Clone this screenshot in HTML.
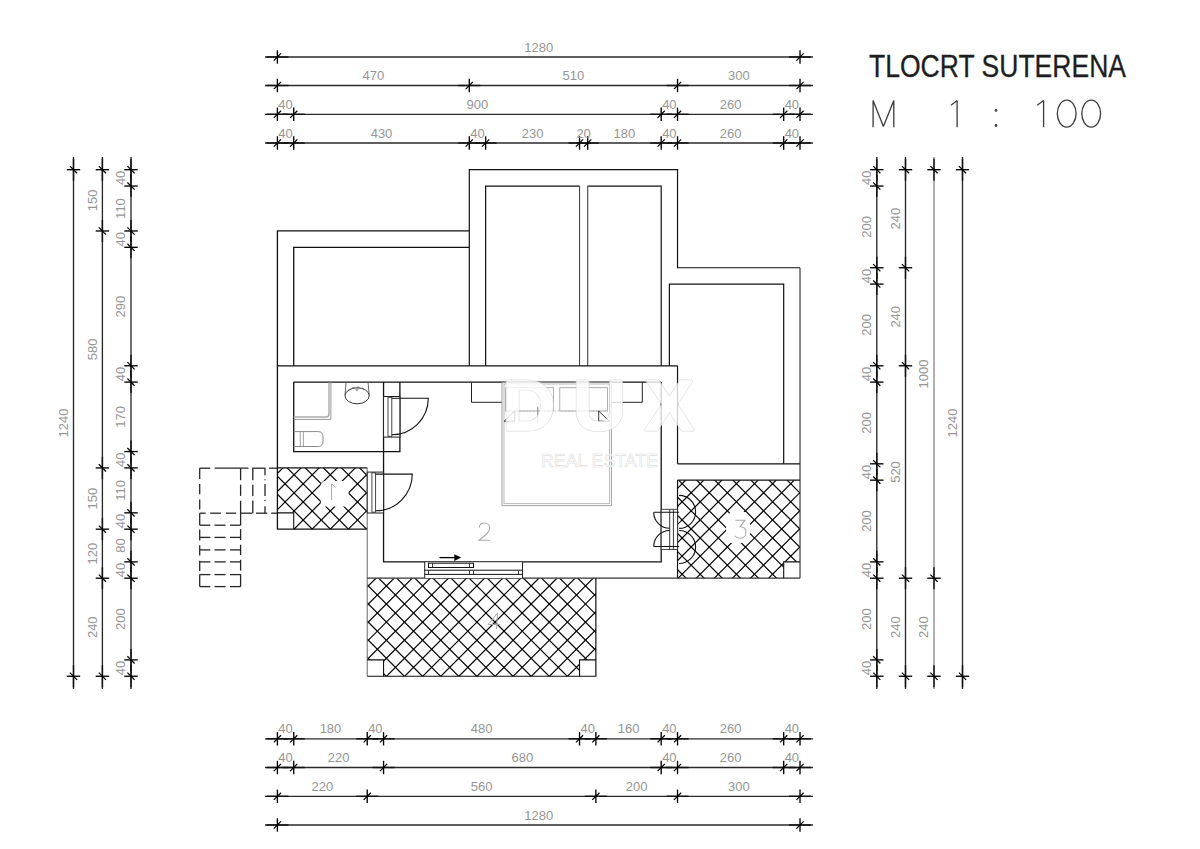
<!DOCTYPE html>
<html><head><meta charset="utf-8"><title>Tlocrt suterena</title>
<style>
html,body{margin:0;padding:0;background:#fff;}
body{width:1200px;height:849px;overflow:hidden;}
svg{display:block;}
.d{font-family:"Liberation Sans",sans-serif;font-size:13px;fill:#959595;}
</style></head><body>
<svg width="1200" height="849" viewBox="0 0 1200 849">
<defs>
<clipPath id="c1"><polygon points="277.4,467.9 367.23,467.9 367.23,529.18 293.73,529.18 293.73,512.84 277.4,512.84"/></clipPath>
<clipPath id="c4"><polygon points="367.23,578.2 595.87,578.2 595.87,659.9 579.54,659.9 579.54,676.24 383.56,676.24 383.56,659.9 367.23,659.9"/></clipPath>
<clipPath id="c3"><polygon points="677.53,480.16 800.02,480.16 800.02,561.86 783.69,561.86 783.69,578.2 677.53,578.2"/></clipPath>
</defs>
<rect width="1200" height="849" fill="#fff"/>
<line x1="265" y1="57" x2="813" y2="57" stroke="#2a2a2a" stroke-width="1.35"/>
<line x1="266.4" y1="57" x2="288.4" y2="57" stroke="#111" stroke-width="1.45"/>
<line x1="277.4" y1="50.3" x2="277.4" y2="63.7" stroke="#000" stroke-width="1.35"/>
<line x1="273.8" y1="60.6" x2="281" y2="53.4" stroke="#000" stroke-width="1.25"/>
<line x1="789.02" y1="57" x2="811.02" y2="57" stroke="#111" stroke-width="1.45"/>
<line x1="800.02" y1="50.3" x2="800.02" y2="63.7" stroke="#000" stroke-width="1.35"/>
<line x1="796.42" y1="60.6" x2="803.62" y2="53.4" stroke="#000" stroke-width="1.25"/>
<text x="538.71" y="51.5" class="d" text-anchor="middle">1280</text>
<line x1="265" y1="85.5" x2="813" y2="85.5" stroke="#2a2a2a" stroke-width="1.35"/>
<line x1="266.4" y1="85.5" x2="288.4" y2="85.5" stroke="#111" stroke-width="1.45"/>
<line x1="277.4" y1="78.8" x2="277.4" y2="92.2" stroke="#000" stroke-width="1.35"/>
<line x1="273.8" y1="89.1" x2="281" y2="81.9" stroke="#000" stroke-width="1.25"/>
<line x1="458.3" y1="85.5" x2="480.3" y2="85.5" stroke="#111" stroke-width="1.45"/>
<line x1="469.3" y1="78.8" x2="469.3" y2="92.2" stroke="#000" stroke-width="1.35"/>
<line x1="465.7" y1="89.1" x2="472.9" y2="81.9" stroke="#000" stroke-width="1.25"/>
<line x1="666.53" y1="85.5" x2="688.53" y2="85.5" stroke="#111" stroke-width="1.45"/>
<line x1="677.53" y1="78.8" x2="677.53" y2="92.2" stroke="#000" stroke-width="1.35"/>
<line x1="673.93" y1="89.1" x2="681.13" y2="81.9" stroke="#000" stroke-width="1.25"/>
<line x1="789.02" y1="85.5" x2="811.02" y2="85.5" stroke="#111" stroke-width="1.45"/>
<line x1="800.02" y1="78.8" x2="800.02" y2="92.2" stroke="#000" stroke-width="1.35"/>
<line x1="796.42" y1="89.1" x2="803.62" y2="81.9" stroke="#000" stroke-width="1.25"/>
<text x="373.35" y="80" class="d" text-anchor="middle">470</text>
<text x="573.42" y="80" class="d" text-anchor="middle">510</text>
<text x="738.78" y="80" class="d" text-anchor="middle">300</text>
<line x1="265" y1="114.3" x2="813" y2="114.3" stroke="#2a2a2a" stroke-width="1.35"/>
<line x1="266.4" y1="114.3" x2="288.4" y2="114.3" stroke="#111" stroke-width="1.45"/>
<line x1="277.4" y1="107.6" x2="277.4" y2="121" stroke="#000" stroke-width="1.35"/>
<line x1="273.8" y1="117.9" x2="281" y2="110.7" stroke="#000" stroke-width="1.25"/>
<line x1="282.73" y1="114.3" x2="304.73" y2="114.3" stroke="#111" stroke-width="1.45"/>
<line x1="293.73" y1="107.6" x2="293.73" y2="121" stroke="#000" stroke-width="1.35"/>
<line x1="290.13" y1="117.9" x2="297.33" y2="110.7" stroke="#000" stroke-width="1.25"/>
<line x1="650.2" y1="114.3" x2="672.2" y2="114.3" stroke="#111" stroke-width="1.45"/>
<line x1="661.2" y1="107.6" x2="661.2" y2="121" stroke="#000" stroke-width="1.35"/>
<line x1="657.6" y1="117.9" x2="664.8" y2="110.7" stroke="#000" stroke-width="1.25"/>
<line x1="666.53" y1="114.3" x2="688.53" y2="114.3" stroke="#111" stroke-width="1.45"/>
<line x1="677.53" y1="107.6" x2="677.53" y2="121" stroke="#000" stroke-width="1.35"/>
<line x1="673.93" y1="117.9" x2="681.13" y2="110.7" stroke="#000" stroke-width="1.25"/>
<line x1="772.69" y1="114.3" x2="794.69" y2="114.3" stroke="#111" stroke-width="1.45"/>
<line x1="783.69" y1="107.6" x2="783.69" y2="121" stroke="#000" stroke-width="1.35"/>
<line x1="780.09" y1="117.9" x2="787.29" y2="110.7" stroke="#000" stroke-width="1.25"/>
<line x1="789.02" y1="114.3" x2="811.02" y2="114.3" stroke="#111" stroke-width="1.45"/>
<line x1="800.02" y1="107.6" x2="800.02" y2="121" stroke="#000" stroke-width="1.35"/>
<line x1="796.42" y1="117.9" x2="803.62" y2="110.7" stroke="#000" stroke-width="1.25"/>
<text x="285.57" y="108.8" class="d" text-anchor="middle">40</text>
<text x="477.47" y="108.8" class="d" text-anchor="middle">900</text>
<text x="669.37" y="108.8" class="d" text-anchor="middle">40</text>
<text x="730.61" y="108.8" class="d" text-anchor="middle">260</text>
<text x="791.86" y="108.8" class="d" text-anchor="middle">40</text>
<line x1="265" y1="143" x2="813" y2="143" stroke="#2a2a2a" stroke-width="1.35"/>
<line x1="266.4" y1="143" x2="288.4" y2="143" stroke="#111" stroke-width="1.45"/>
<line x1="277.4" y1="136.3" x2="277.4" y2="149.7" stroke="#000" stroke-width="1.35"/>
<line x1="273.8" y1="146.6" x2="281" y2="139.4" stroke="#000" stroke-width="1.25"/>
<line x1="282.73" y1="143" x2="304.73" y2="143" stroke="#111" stroke-width="1.45"/>
<line x1="293.73" y1="136.3" x2="293.73" y2="149.7" stroke="#000" stroke-width="1.35"/>
<line x1="290.13" y1="146.6" x2="297.33" y2="139.4" stroke="#000" stroke-width="1.25"/>
<line x1="458.3" y1="143" x2="480.3" y2="143" stroke="#111" stroke-width="1.45"/>
<line x1="469.3" y1="136.3" x2="469.3" y2="149.7" stroke="#000" stroke-width="1.35"/>
<line x1="465.7" y1="146.6" x2="472.9" y2="139.4" stroke="#000" stroke-width="1.25"/>
<line x1="474.63" y1="143" x2="496.63" y2="143" stroke="#111" stroke-width="1.45"/>
<line x1="485.63" y1="136.3" x2="485.63" y2="149.7" stroke="#000" stroke-width="1.35"/>
<line x1="482.03" y1="146.6" x2="489.23" y2="139.4" stroke="#000" stroke-width="1.25"/>
<line x1="568.54" y1="143" x2="590.54" y2="143" stroke="#111" stroke-width="1.45"/>
<line x1="579.54" y1="136.3" x2="579.54" y2="149.7" stroke="#000" stroke-width="1.35"/>
<line x1="575.94" y1="146.6" x2="583.14" y2="139.4" stroke="#000" stroke-width="1.25"/>
<line x1="576.71" y1="143" x2="598.71" y2="143" stroke="#111" stroke-width="1.45"/>
<line x1="587.71" y1="136.3" x2="587.71" y2="149.7" stroke="#000" stroke-width="1.35"/>
<line x1="584.11" y1="146.6" x2="591.31" y2="139.4" stroke="#000" stroke-width="1.25"/>
<line x1="650.2" y1="143" x2="672.2" y2="143" stroke="#111" stroke-width="1.45"/>
<line x1="661.2" y1="136.3" x2="661.2" y2="149.7" stroke="#000" stroke-width="1.35"/>
<line x1="657.6" y1="146.6" x2="664.8" y2="139.4" stroke="#000" stroke-width="1.25"/>
<line x1="666.53" y1="143" x2="688.53" y2="143" stroke="#111" stroke-width="1.45"/>
<line x1="677.53" y1="136.3" x2="677.53" y2="149.7" stroke="#000" stroke-width="1.35"/>
<line x1="673.93" y1="146.6" x2="681.13" y2="139.4" stroke="#000" stroke-width="1.25"/>
<line x1="772.69" y1="143" x2="794.69" y2="143" stroke="#111" stroke-width="1.45"/>
<line x1="783.69" y1="136.3" x2="783.69" y2="149.7" stroke="#000" stroke-width="1.35"/>
<line x1="780.09" y1="146.6" x2="787.29" y2="139.4" stroke="#000" stroke-width="1.25"/>
<line x1="789.02" y1="143" x2="811.02" y2="143" stroke="#111" stroke-width="1.45"/>
<line x1="800.02" y1="136.3" x2="800.02" y2="149.7" stroke="#000" stroke-width="1.35"/>
<line x1="796.42" y1="146.6" x2="803.62" y2="139.4" stroke="#000" stroke-width="1.25"/>
<text x="285.57" y="137.5" class="d" text-anchor="middle">40</text>
<text x="381.52" y="137.5" class="d" text-anchor="middle">430</text>
<text x="477.47" y="137.5" class="d" text-anchor="middle">40</text>
<text x="532.59" y="137.5" class="d" text-anchor="middle">230</text>
<text x="583.62" y="137.5" class="d" text-anchor="middle">20</text>
<text x="624.45" y="137.5" class="d" text-anchor="middle">180</text>
<text x="669.37" y="137.5" class="d" text-anchor="middle">40</text>
<text x="730.61" y="137.5" class="d" text-anchor="middle">260</text>
<text x="791.86" y="137.5" class="d" text-anchor="middle">40</text>
<line x1="265" y1="738.8" x2="813" y2="738.8" stroke="#2a2a2a" stroke-width="1.35"/>
<line x1="266.4" y1="738.8" x2="288.4" y2="738.8" stroke="#111" stroke-width="1.45"/>
<line x1="277.4" y1="732.1" x2="277.4" y2="745.5" stroke="#000" stroke-width="1.35"/>
<line x1="273.8" y1="742.4" x2="281" y2="735.2" stroke="#000" stroke-width="1.25"/>
<line x1="282.73" y1="738.8" x2="304.73" y2="738.8" stroke="#111" stroke-width="1.45"/>
<line x1="293.73" y1="732.1" x2="293.73" y2="745.5" stroke="#000" stroke-width="1.35"/>
<line x1="290.13" y1="742.4" x2="297.33" y2="735.2" stroke="#000" stroke-width="1.25"/>
<line x1="356.23" y1="738.8" x2="378.23" y2="738.8" stroke="#111" stroke-width="1.45"/>
<line x1="367.23" y1="732.1" x2="367.23" y2="745.5" stroke="#000" stroke-width="1.35"/>
<line x1="363.63" y1="742.4" x2="370.83" y2="735.2" stroke="#000" stroke-width="1.25"/>
<line x1="372.56" y1="738.8" x2="394.56" y2="738.8" stroke="#111" stroke-width="1.45"/>
<line x1="383.56" y1="732.1" x2="383.56" y2="745.5" stroke="#000" stroke-width="1.35"/>
<line x1="379.96" y1="742.4" x2="387.16" y2="735.2" stroke="#000" stroke-width="1.25"/>
<line x1="568.54" y1="738.8" x2="590.54" y2="738.8" stroke="#111" stroke-width="1.45"/>
<line x1="579.54" y1="732.1" x2="579.54" y2="745.5" stroke="#000" stroke-width="1.35"/>
<line x1="575.94" y1="742.4" x2="583.14" y2="735.2" stroke="#000" stroke-width="1.25"/>
<line x1="584.87" y1="738.8" x2="606.87" y2="738.8" stroke="#111" stroke-width="1.45"/>
<line x1="595.87" y1="732.1" x2="595.87" y2="745.5" stroke="#000" stroke-width="1.35"/>
<line x1="592.27" y1="742.4" x2="599.47" y2="735.2" stroke="#000" stroke-width="1.25"/>
<line x1="650.2" y1="738.8" x2="672.2" y2="738.8" stroke="#111" stroke-width="1.45"/>
<line x1="661.2" y1="732.1" x2="661.2" y2="745.5" stroke="#000" stroke-width="1.35"/>
<line x1="657.6" y1="742.4" x2="664.8" y2="735.2" stroke="#000" stroke-width="1.25"/>
<line x1="666.53" y1="738.8" x2="688.53" y2="738.8" stroke="#111" stroke-width="1.45"/>
<line x1="677.53" y1="732.1" x2="677.53" y2="745.5" stroke="#000" stroke-width="1.35"/>
<line x1="673.93" y1="742.4" x2="681.13" y2="735.2" stroke="#000" stroke-width="1.25"/>
<line x1="772.69" y1="738.8" x2="794.69" y2="738.8" stroke="#111" stroke-width="1.45"/>
<line x1="783.69" y1="732.1" x2="783.69" y2="745.5" stroke="#000" stroke-width="1.35"/>
<line x1="780.09" y1="742.4" x2="787.29" y2="735.2" stroke="#000" stroke-width="1.25"/>
<line x1="789.02" y1="738.8" x2="811.02" y2="738.8" stroke="#111" stroke-width="1.45"/>
<line x1="800.02" y1="732.1" x2="800.02" y2="745.5" stroke="#000" stroke-width="1.35"/>
<line x1="796.42" y1="742.4" x2="803.62" y2="735.2" stroke="#000" stroke-width="1.25"/>
<text x="285.57" y="733.3" class="d" text-anchor="middle">40</text>
<text x="330.48" y="733.3" class="d" text-anchor="middle">180</text>
<text x="375.39" y="733.3" class="d" text-anchor="middle">40</text>
<text x="481.55" y="733.3" class="d" text-anchor="middle">480</text>
<text x="587.71" y="733.3" class="d" text-anchor="middle">40</text>
<text x="628.54" y="733.3" class="d" text-anchor="middle">160</text>
<text x="669.37" y="733.3" class="d" text-anchor="middle">40</text>
<text x="730.61" y="733.3" class="d" text-anchor="middle">260</text>
<text x="791.86" y="733.3" class="d" text-anchor="middle">40</text>
<line x1="265" y1="767.5" x2="813" y2="767.5" stroke="#2a2a2a" stroke-width="1.35"/>
<line x1="266.4" y1="767.5" x2="288.4" y2="767.5" stroke="#111" stroke-width="1.45"/>
<line x1="277.4" y1="760.8" x2="277.4" y2="774.2" stroke="#000" stroke-width="1.35"/>
<line x1="273.8" y1="771.1" x2="281" y2="763.9" stroke="#000" stroke-width="1.25"/>
<line x1="282.73" y1="767.5" x2="304.73" y2="767.5" stroke="#111" stroke-width="1.45"/>
<line x1="293.73" y1="760.8" x2="293.73" y2="774.2" stroke="#000" stroke-width="1.35"/>
<line x1="290.13" y1="771.1" x2="297.33" y2="763.9" stroke="#000" stroke-width="1.25"/>
<line x1="372.56" y1="767.5" x2="394.56" y2="767.5" stroke="#111" stroke-width="1.45"/>
<line x1="383.56" y1="760.8" x2="383.56" y2="774.2" stroke="#000" stroke-width="1.35"/>
<line x1="379.96" y1="771.1" x2="387.16" y2="763.9" stroke="#000" stroke-width="1.25"/>
<line x1="650.2" y1="767.5" x2="672.2" y2="767.5" stroke="#111" stroke-width="1.45"/>
<line x1="661.2" y1="760.8" x2="661.2" y2="774.2" stroke="#000" stroke-width="1.35"/>
<line x1="657.6" y1="771.1" x2="664.8" y2="763.9" stroke="#000" stroke-width="1.25"/>
<line x1="666.53" y1="767.5" x2="688.53" y2="767.5" stroke="#111" stroke-width="1.45"/>
<line x1="677.53" y1="760.8" x2="677.53" y2="774.2" stroke="#000" stroke-width="1.35"/>
<line x1="673.93" y1="771.1" x2="681.13" y2="763.9" stroke="#000" stroke-width="1.25"/>
<line x1="772.69" y1="767.5" x2="794.69" y2="767.5" stroke="#111" stroke-width="1.45"/>
<line x1="783.69" y1="760.8" x2="783.69" y2="774.2" stroke="#000" stroke-width="1.35"/>
<line x1="780.09" y1="771.1" x2="787.29" y2="763.9" stroke="#000" stroke-width="1.25"/>
<line x1="789.02" y1="767.5" x2="811.02" y2="767.5" stroke="#111" stroke-width="1.45"/>
<line x1="800.02" y1="760.8" x2="800.02" y2="774.2" stroke="#000" stroke-width="1.35"/>
<line x1="796.42" y1="771.1" x2="803.62" y2="763.9" stroke="#000" stroke-width="1.25"/>
<text x="285.57" y="762" class="d" text-anchor="middle">40</text>
<text x="338.64" y="762" class="d" text-anchor="middle">220</text>
<text x="522.38" y="762" class="d" text-anchor="middle">680</text>
<text x="669.37" y="762" class="d" text-anchor="middle">40</text>
<text x="730.61" y="762" class="d" text-anchor="middle">260</text>
<text x="791.86" y="762" class="d" text-anchor="middle">40</text>
<line x1="265" y1="796.3" x2="813" y2="796.3" stroke="#2a2a2a" stroke-width="1.35"/>
<line x1="266.4" y1="796.3" x2="288.4" y2="796.3" stroke="#111" stroke-width="1.45"/>
<line x1="277.4" y1="789.6" x2="277.4" y2="803" stroke="#000" stroke-width="1.35"/>
<line x1="273.8" y1="799.9" x2="281" y2="792.7" stroke="#000" stroke-width="1.25"/>
<line x1="356.23" y1="796.3" x2="378.23" y2="796.3" stroke="#111" stroke-width="1.45"/>
<line x1="367.23" y1="789.6" x2="367.23" y2="803" stroke="#000" stroke-width="1.35"/>
<line x1="363.63" y1="799.9" x2="370.83" y2="792.7" stroke="#000" stroke-width="1.25"/>
<line x1="584.87" y1="796.3" x2="606.87" y2="796.3" stroke="#111" stroke-width="1.45"/>
<line x1="595.87" y1="789.6" x2="595.87" y2="803" stroke="#000" stroke-width="1.35"/>
<line x1="592.27" y1="799.9" x2="599.47" y2="792.7" stroke="#000" stroke-width="1.25"/>
<line x1="666.53" y1="796.3" x2="688.53" y2="796.3" stroke="#111" stroke-width="1.45"/>
<line x1="677.53" y1="789.6" x2="677.53" y2="803" stroke="#000" stroke-width="1.35"/>
<line x1="673.93" y1="799.9" x2="681.13" y2="792.7" stroke="#000" stroke-width="1.25"/>
<line x1="789.02" y1="796.3" x2="811.02" y2="796.3" stroke="#111" stroke-width="1.45"/>
<line x1="800.02" y1="789.6" x2="800.02" y2="803" stroke="#000" stroke-width="1.35"/>
<line x1="796.42" y1="799.9" x2="803.62" y2="792.7" stroke="#000" stroke-width="1.25"/>
<text x="322.31" y="790.8" class="d" text-anchor="middle">220</text>
<text x="481.55" y="790.8" class="d" text-anchor="middle">560</text>
<text x="636.7" y="790.8" class="d" text-anchor="middle">200</text>
<text x="738.78" y="790.8" class="d" text-anchor="middle">300</text>
<line x1="265" y1="825" x2="813" y2="825" stroke="#2a2a2a" stroke-width="1.35"/>
<line x1="266.4" y1="825" x2="288.4" y2="825" stroke="#111" stroke-width="1.45"/>
<line x1="277.4" y1="818.3" x2="277.4" y2="831.7" stroke="#000" stroke-width="1.35"/>
<line x1="273.8" y1="828.6" x2="281" y2="821.4" stroke="#000" stroke-width="1.25"/>
<line x1="789.02" y1="825" x2="811.02" y2="825" stroke="#111" stroke-width="1.45"/>
<line x1="800.02" y1="818.3" x2="800.02" y2="831.7" stroke="#000" stroke-width="1.35"/>
<line x1="796.42" y1="828.6" x2="803.62" y2="821.4" stroke="#000" stroke-width="1.25"/>
<text x="538.71" y="819.5" class="d" text-anchor="middle">1280</text>
<line x1="73.5" y1="157" x2="73.5" y2="689" stroke="#2a2a2a" stroke-width="1.35"/>
<line x1="73.5" y1="158.7" x2="73.5" y2="180.7" stroke="#111" stroke-width="1.45"/>
<line x1="66.8" y1="169.7" x2="80.2" y2="169.7" stroke="#000" stroke-width="1.35"/>
<line x1="69.9" y1="166.1" x2="77.1" y2="173.3" stroke="#000" stroke-width="1.25"/>
<line x1="73.5" y1="665.24" x2="73.5" y2="687.24" stroke="#111" stroke-width="1.45"/>
<line x1="66.8" y1="676.24" x2="80.2" y2="676.24" stroke="#000" stroke-width="1.35"/>
<line x1="69.9" y1="672.64" x2="77.1" y2="679.84" stroke="#000" stroke-width="1.25"/>
<text x="67.7" y="422.97" class="d" text-anchor="middle" transform="rotate(-90 67.7 422.97)">1240</text>
<line x1="102.4" y1="157" x2="102.4" y2="689" stroke="#2a2a2a" stroke-width="1.35"/>
<line x1="102.4" y1="158.7" x2="102.4" y2="180.7" stroke="#111" stroke-width="1.45"/>
<line x1="95.7" y1="169.7" x2="109.1" y2="169.7" stroke="#000" stroke-width="1.35"/>
<line x1="98.8" y1="166.1" x2="106" y2="173.3" stroke="#000" stroke-width="1.25"/>
<line x1="102.4" y1="219.97" x2="102.4" y2="241.97" stroke="#111" stroke-width="1.45"/>
<line x1="95.7" y1="230.97" x2="109.1" y2="230.97" stroke="#000" stroke-width="1.35"/>
<line x1="98.8" y1="227.38" x2="106" y2="234.57" stroke="#000" stroke-width="1.25"/>
<line x1="102.4" y1="456.9" x2="102.4" y2="478.9" stroke="#111" stroke-width="1.45"/>
<line x1="95.7" y1="467.9" x2="109.1" y2="467.9" stroke="#000" stroke-width="1.35"/>
<line x1="98.8" y1="464.3" x2="106" y2="471.5" stroke="#000" stroke-width="1.25"/>
<line x1="102.4" y1="518.18" x2="102.4" y2="540.18" stroke="#111" stroke-width="1.45"/>
<line x1="95.7" y1="529.18" x2="109.1" y2="529.18" stroke="#000" stroke-width="1.35"/>
<line x1="98.8" y1="525.58" x2="106" y2="532.78" stroke="#000" stroke-width="1.25"/>
<line x1="102.4" y1="567.2" x2="102.4" y2="589.2" stroke="#111" stroke-width="1.45"/>
<line x1="95.7" y1="578.2" x2="109.1" y2="578.2" stroke="#000" stroke-width="1.35"/>
<line x1="98.8" y1="574.6" x2="106" y2="581.8" stroke="#000" stroke-width="1.25"/>
<line x1="102.4" y1="665.24" x2="102.4" y2="687.24" stroke="#111" stroke-width="1.45"/>
<line x1="95.7" y1="676.24" x2="109.1" y2="676.24" stroke="#000" stroke-width="1.35"/>
<line x1="98.8" y1="672.64" x2="106" y2="679.84" stroke="#000" stroke-width="1.25"/>
<text x="96.6" y="200.34" class="d" text-anchor="middle" transform="rotate(-90 96.6 200.34)">150</text>
<text x="96.6" y="349.44" class="d" text-anchor="middle" transform="rotate(-90 96.6 349.44)">580</text>
<text x="96.6" y="498.54" class="d" text-anchor="middle" transform="rotate(-90 96.6 498.54)">150</text>
<text x="96.6" y="553.69" class="d" text-anchor="middle" transform="rotate(-90 96.6 553.69)">120</text>
<text x="96.6" y="627.22" class="d" text-anchor="middle" transform="rotate(-90 96.6 627.22)">240</text>
<line x1="131" y1="157" x2="131" y2="689" stroke="#2a2a2a" stroke-width="1.35"/>
<line x1="131" y1="158.7" x2="131" y2="180.7" stroke="#111" stroke-width="1.45"/>
<line x1="124.3" y1="169.7" x2="137.7" y2="169.7" stroke="#000" stroke-width="1.35"/>
<line x1="127.4" y1="166.1" x2="134.6" y2="173.3" stroke="#000" stroke-width="1.25"/>
<line x1="131" y1="175.04" x2="131" y2="197.04" stroke="#111" stroke-width="1.45"/>
<line x1="124.3" y1="186.04" x2="137.7" y2="186.04" stroke="#000" stroke-width="1.35"/>
<line x1="127.4" y1="182.44" x2="134.6" y2="189.64" stroke="#000" stroke-width="1.25"/>
<line x1="131" y1="219.97" x2="131" y2="241.97" stroke="#111" stroke-width="1.45"/>
<line x1="124.3" y1="230.97" x2="137.7" y2="230.97" stroke="#000" stroke-width="1.35"/>
<line x1="127.4" y1="227.38" x2="134.6" y2="234.57" stroke="#000" stroke-width="1.25"/>
<line x1="131" y1="236.31" x2="131" y2="258.31" stroke="#111" stroke-width="1.45"/>
<line x1="124.3" y1="247.31" x2="137.7" y2="247.31" stroke="#000" stroke-width="1.35"/>
<line x1="127.4" y1="243.72" x2="134.6" y2="250.91" stroke="#000" stroke-width="1.25"/>
<line x1="131" y1="354.78" x2="131" y2="376.78" stroke="#111" stroke-width="1.45"/>
<line x1="124.3" y1="365.78" x2="137.7" y2="365.78" stroke="#000" stroke-width="1.35"/>
<line x1="127.4" y1="362.18" x2="134.6" y2="369.38" stroke="#000" stroke-width="1.25"/>
<line x1="131" y1="371.12" x2="131" y2="393.12" stroke="#111" stroke-width="1.45"/>
<line x1="124.3" y1="382.12" x2="137.7" y2="382.12" stroke="#000" stroke-width="1.35"/>
<line x1="127.4" y1="378.52" x2="134.6" y2="385.72" stroke="#000" stroke-width="1.25"/>
<line x1="131" y1="440.56" x2="131" y2="462.56" stroke="#111" stroke-width="1.45"/>
<line x1="124.3" y1="451.56" x2="137.7" y2="451.56" stroke="#000" stroke-width="1.35"/>
<line x1="127.4" y1="447.96" x2="134.6" y2="455.17" stroke="#000" stroke-width="1.25"/>
<line x1="131" y1="456.9" x2="131" y2="478.9" stroke="#111" stroke-width="1.45"/>
<line x1="124.3" y1="467.9" x2="137.7" y2="467.9" stroke="#000" stroke-width="1.35"/>
<line x1="127.4" y1="464.3" x2="134.6" y2="471.5" stroke="#000" stroke-width="1.25"/>
<line x1="131" y1="501.84" x2="131" y2="523.84" stroke="#111" stroke-width="1.45"/>
<line x1="124.3" y1="512.84" x2="137.7" y2="512.84" stroke="#000" stroke-width="1.35"/>
<line x1="127.4" y1="509.24" x2="134.6" y2="516.44" stroke="#000" stroke-width="1.25"/>
<line x1="131" y1="518.18" x2="131" y2="540.18" stroke="#111" stroke-width="1.45"/>
<line x1="124.3" y1="529.18" x2="137.7" y2="529.18" stroke="#000" stroke-width="1.35"/>
<line x1="127.4" y1="525.58" x2="134.6" y2="532.78" stroke="#000" stroke-width="1.25"/>
<line x1="131" y1="550.86" x2="131" y2="572.86" stroke="#111" stroke-width="1.45"/>
<line x1="124.3" y1="561.86" x2="137.7" y2="561.86" stroke="#000" stroke-width="1.35"/>
<line x1="127.4" y1="558.26" x2="134.6" y2="565.46" stroke="#000" stroke-width="1.25"/>
<line x1="131" y1="567.2" x2="131" y2="589.2" stroke="#111" stroke-width="1.45"/>
<line x1="124.3" y1="578.2" x2="137.7" y2="578.2" stroke="#000" stroke-width="1.35"/>
<line x1="127.4" y1="574.6" x2="134.6" y2="581.8" stroke="#000" stroke-width="1.25"/>
<line x1="131" y1="648.9" x2="131" y2="670.9" stroke="#111" stroke-width="1.45"/>
<line x1="124.3" y1="659.9" x2="137.7" y2="659.9" stroke="#000" stroke-width="1.35"/>
<line x1="127.4" y1="656.3" x2="134.6" y2="663.5" stroke="#000" stroke-width="1.25"/>
<line x1="131" y1="665.24" x2="131" y2="687.24" stroke="#111" stroke-width="1.45"/>
<line x1="124.3" y1="676.24" x2="137.7" y2="676.24" stroke="#000" stroke-width="1.35"/>
<line x1="127.4" y1="672.64" x2="134.6" y2="679.84" stroke="#000" stroke-width="1.25"/>
<text x="125.2" y="177.87" class="d" text-anchor="middle" transform="rotate(-90 125.2 177.87)">40</text>
<text x="125.2" y="208.51" class="d" text-anchor="middle" transform="rotate(-90 125.2 208.51)">110</text>
<text x="125.2" y="239.14" class="d" text-anchor="middle" transform="rotate(-90 125.2 239.14)">40</text>
<text x="125.2" y="306.55" class="d" text-anchor="middle" transform="rotate(-90 125.2 306.55)">290</text>
<text x="125.2" y="373.95" class="d" text-anchor="middle" transform="rotate(-90 125.2 373.95)">40</text>
<text x="125.2" y="416.84" class="d" text-anchor="middle" transform="rotate(-90 125.2 416.84)">170</text>
<text x="125.2" y="459.74" class="d" text-anchor="middle" transform="rotate(-90 125.2 459.74)">40</text>
<text x="125.2" y="490.37" class="d" text-anchor="middle" transform="rotate(-90 125.2 490.37)">110</text>
<text x="125.2" y="521.01" class="d" text-anchor="middle" transform="rotate(-90 125.2 521.01)">40</text>
<text x="125.2" y="545.52" class="d" text-anchor="middle" transform="rotate(-90 125.2 545.52)">80</text>
<text x="125.2" y="570.03" class="d" text-anchor="middle" transform="rotate(-90 125.2 570.03)">40</text>
<text x="125.2" y="619.05" class="d" text-anchor="middle" transform="rotate(-90 125.2 619.05)">200</text>
<text x="125.2" y="668.07" class="d" text-anchor="middle" transform="rotate(-90 125.2 668.07)">40</text>
<line x1="876.8" y1="157" x2="876.8" y2="689" stroke="#2a2a2a" stroke-width="1.35"/>
<line x1="876.8" y1="158.7" x2="876.8" y2="180.7" stroke="#111" stroke-width="1.45"/>
<line x1="870.1" y1="169.7" x2="883.5" y2="169.7" stroke="#000" stroke-width="1.35"/>
<line x1="873.2" y1="166.1" x2="880.4" y2="173.3" stroke="#000" stroke-width="1.25"/>
<line x1="876.8" y1="175.04" x2="876.8" y2="197.04" stroke="#111" stroke-width="1.45"/>
<line x1="870.1" y1="186.04" x2="883.5" y2="186.04" stroke="#000" stroke-width="1.35"/>
<line x1="873.2" y1="182.44" x2="880.4" y2="189.64" stroke="#000" stroke-width="1.25"/>
<line x1="876.8" y1="256.74" x2="876.8" y2="278.74" stroke="#111" stroke-width="1.45"/>
<line x1="870.1" y1="267.74" x2="883.5" y2="267.74" stroke="#000" stroke-width="1.35"/>
<line x1="873.2" y1="264.14" x2="880.4" y2="271.34" stroke="#000" stroke-width="1.25"/>
<line x1="876.8" y1="273.08" x2="876.8" y2="295.08" stroke="#111" stroke-width="1.45"/>
<line x1="870.1" y1="284.08" x2="883.5" y2="284.08" stroke="#000" stroke-width="1.35"/>
<line x1="873.2" y1="280.48" x2="880.4" y2="287.68" stroke="#000" stroke-width="1.25"/>
<line x1="876.8" y1="354.78" x2="876.8" y2="376.78" stroke="#111" stroke-width="1.45"/>
<line x1="870.1" y1="365.78" x2="883.5" y2="365.78" stroke="#000" stroke-width="1.35"/>
<line x1="873.2" y1="362.18" x2="880.4" y2="369.38" stroke="#000" stroke-width="1.25"/>
<line x1="876.8" y1="371.12" x2="876.8" y2="393.12" stroke="#111" stroke-width="1.45"/>
<line x1="870.1" y1="382.12" x2="883.5" y2="382.12" stroke="#000" stroke-width="1.35"/>
<line x1="873.2" y1="378.52" x2="880.4" y2="385.72" stroke="#000" stroke-width="1.25"/>
<line x1="876.8" y1="452.82" x2="876.8" y2="474.82" stroke="#111" stroke-width="1.45"/>
<line x1="870.1" y1="463.82" x2="883.5" y2="463.82" stroke="#000" stroke-width="1.35"/>
<line x1="873.2" y1="460.22" x2="880.4" y2="467.42" stroke="#000" stroke-width="1.25"/>
<line x1="876.8" y1="469.16" x2="876.8" y2="491.16" stroke="#111" stroke-width="1.45"/>
<line x1="870.1" y1="480.16" x2="883.5" y2="480.16" stroke="#000" stroke-width="1.35"/>
<line x1="873.2" y1="476.56" x2="880.4" y2="483.76" stroke="#000" stroke-width="1.25"/>
<line x1="876.8" y1="550.86" x2="876.8" y2="572.86" stroke="#111" stroke-width="1.45"/>
<line x1="870.1" y1="561.86" x2="883.5" y2="561.86" stroke="#000" stroke-width="1.35"/>
<line x1="873.2" y1="558.26" x2="880.4" y2="565.46" stroke="#000" stroke-width="1.25"/>
<line x1="876.8" y1="567.2" x2="876.8" y2="589.2" stroke="#111" stroke-width="1.45"/>
<line x1="870.1" y1="578.2" x2="883.5" y2="578.2" stroke="#000" stroke-width="1.35"/>
<line x1="873.2" y1="574.6" x2="880.4" y2="581.8" stroke="#000" stroke-width="1.25"/>
<line x1="876.8" y1="648.9" x2="876.8" y2="670.9" stroke="#111" stroke-width="1.45"/>
<line x1="870.1" y1="659.9" x2="883.5" y2="659.9" stroke="#000" stroke-width="1.35"/>
<line x1="873.2" y1="656.3" x2="880.4" y2="663.5" stroke="#000" stroke-width="1.25"/>
<line x1="876.8" y1="665.24" x2="876.8" y2="687.24" stroke="#111" stroke-width="1.45"/>
<line x1="870.1" y1="676.24" x2="883.5" y2="676.24" stroke="#000" stroke-width="1.35"/>
<line x1="873.2" y1="672.64" x2="880.4" y2="679.84" stroke="#000" stroke-width="1.25"/>
<text x="871" y="177.87" class="d" text-anchor="middle" transform="rotate(-90 871 177.87)">40</text>
<text x="871" y="226.89" class="d" text-anchor="middle" transform="rotate(-90 871 226.89)">200</text>
<text x="871" y="275.91" class="d" text-anchor="middle" transform="rotate(-90 871 275.91)">40</text>
<text x="871" y="324.93" class="d" text-anchor="middle" transform="rotate(-90 871 324.93)">200</text>
<text x="871" y="373.95" class="d" text-anchor="middle" transform="rotate(-90 871 373.95)">40</text>
<text x="871" y="422.97" class="d" text-anchor="middle" transform="rotate(-90 871 422.97)">200</text>
<text x="871" y="471.99" class="d" text-anchor="middle" transform="rotate(-90 871 471.99)">40</text>
<text x="871" y="521.01" class="d" text-anchor="middle" transform="rotate(-90 871 521.01)">200</text>
<text x="871" y="570.03" class="d" text-anchor="middle" transform="rotate(-90 871 570.03)">40</text>
<text x="871" y="619.05" class="d" text-anchor="middle" transform="rotate(-90 871 619.05)">200</text>
<text x="871" y="668.07" class="d" text-anchor="middle" transform="rotate(-90 871 668.07)">40</text>
<line x1="905.5" y1="157" x2="905.5" y2="689" stroke="#2a2a2a" stroke-width="1.35"/>
<line x1="905.5" y1="158.7" x2="905.5" y2="180.7" stroke="#111" stroke-width="1.45"/>
<line x1="898.8" y1="169.7" x2="912.2" y2="169.7" stroke="#000" stroke-width="1.35"/>
<line x1="901.9" y1="166.1" x2="909.1" y2="173.3" stroke="#000" stroke-width="1.25"/>
<line x1="905.5" y1="256.74" x2="905.5" y2="278.74" stroke="#111" stroke-width="1.45"/>
<line x1="898.8" y1="267.74" x2="912.2" y2="267.74" stroke="#000" stroke-width="1.35"/>
<line x1="901.9" y1="264.14" x2="909.1" y2="271.34" stroke="#000" stroke-width="1.25"/>
<line x1="905.5" y1="354.78" x2="905.5" y2="376.78" stroke="#111" stroke-width="1.45"/>
<line x1="898.8" y1="365.78" x2="912.2" y2="365.78" stroke="#000" stroke-width="1.35"/>
<line x1="901.9" y1="362.18" x2="909.1" y2="369.38" stroke="#000" stroke-width="1.25"/>
<line x1="905.5" y1="567.2" x2="905.5" y2="589.2" stroke="#111" stroke-width="1.45"/>
<line x1="898.8" y1="578.2" x2="912.2" y2="578.2" stroke="#000" stroke-width="1.35"/>
<line x1="901.9" y1="574.6" x2="909.1" y2="581.8" stroke="#000" stroke-width="1.25"/>
<line x1="905.5" y1="665.24" x2="905.5" y2="687.24" stroke="#111" stroke-width="1.45"/>
<line x1="898.8" y1="676.24" x2="912.2" y2="676.24" stroke="#000" stroke-width="1.35"/>
<line x1="901.9" y1="672.64" x2="909.1" y2="679.84" stroke="#000" stroke-width="1.25"/>
<text x="899.7" y="218.72" class="d" text-anchor="middle" transform="rotate(-90 899.7 218.72)">240</text>
<text x="899.7" y="316.76" class="d" text-anchor="middle" transform="rotate(-90 899.7 316.76)">240</text>
<text x="899.7" y="471.99" class="d" text-anchor="middle" transform="rotate(-90 899.7 471.99)">520</text>
<text x="899.7" y="627.22" class="d" text-anchor="middle" transform="rotate(-90 899.7 627.22)">240</text>
<line x1="934" y1="157" x2="934" y2="689" stroke="#8a8a8a" stroke-width="1.35"/>
<line x1="934" y1="158.7" x2="934" y2="180.7" stroke="#111" stroke-width="1.45"/>
<line x1="927.3" y1="169.7" x2="940.7" y2="169.7" stroke="#000" stroke-width="1.35"/>
<line x1="930.4" y1="166.1" x2="937.6" y2="173.3" stroke="#000" stroke-width="1.25"/>
<line x1="934" y1="567.2" x2="934" y2="589.2" stroke="#111" stroke-width="1.45"/>
<line x1="927.3" y1="578.2" x2="940.7" y2="578.2" stroke="#000" stroke-width="1.35"/>
<line x1="930.4" y1="574.6" x2="937.6" y2="581.8" stroke="#000" stroke-width="1.25"/>
<line x1="934" y1="665.24" x2="934" y2="687.24" stroke="#111" stroke-width="1.45"/>
<line x1="927.3" y1="676.24" x2="940.7" y2="676.24" stroke="#000" stroke-width="1.35"/>
<line x1="930.4" y1="672.64" x2="937.6" y2="679.84" stroke="#000" stroke-width="1.25"/>
<text x="928.2" y="373.95" class="d" text-anchor="middle" transform="rotate(-90 928.2 373.95)">1000</text>
<text x="928.2" y="627.22" class="d" text-anchor="middle" transform="rotate(-90 928.2 627.22)">240</text>
<line x1="962.5" y1="157" x2="962.5" y2="689" stroke="#2a2a2a" stroke-width="1.35"/>
<line x1="962.5" y1="158.7" x2="962.5" y2="180.7" stroke="#111" stroke-width="1.45"/>
<line x1="955.8" y1="169.7" x2="969.2" y2="169.7" stroke="#000" stroke-width="1.35"/>
<line x1="958.9" y1="166.1" x2="966.1" y2="173.3" stroke="#000" stroke-width="1.25"/>
<line x1="962.5" y1="665.24" x2="962.5" y2="687.24" stroke="#111" stroke-width="1.45"/>
<line x1="955.8" y1="676.24" x2="969.2" y2="676.24" stroke="#000" stroke-width="1.35"/>
<line x1="958.9" y1="672.64" x2="966.1" y2="679.84" stroke="#000" stroke-width="1.25"/>
<text x="956.7" y="422.97" class="d" text-anchor="middle" transform="rotate(-90 956.7 422.97)">1240</text>
<g clip-path="url(#c1)" stroke="#000" stroke-width="1.2">
<line x1="191.7" y1="462.9" x2="262.98" y2="534.18"/>
<line x1="209.8" y1="462.9" x2="281.08" y2="534.18"/>
<line x1="227.9" y1="462.9" x2="299.18" y2="534.18"/>
<line x1="246" y1="462.9" x2="317.28" y2="534.18"/>
<line x1="264.11" y1="462.9" x2="335.38" y2="534.18"/>
<line x1="282.2" y1="462.9" x2="353.48" y2="534.18"/>
<line x1="300.3" y1="462.9" x2="371.58" y2="534.18"/>
<line x1="318.4" y1="462.9" x2="389.68" y2="534.18"/>
<line x1="336.5" y1="462.9" x2="407.78" y2="534.18"/>
<line x1="354.61" y1="462.9" x2="425.88" y2="534.18"/>
<line x1="372.7" y1="462.9" x2="443.98" y2="534.18"/>
<line x1="390.81" y1="462.9" x2="462.08" y2="534.18"/>
<line x1="251.7" y1="462.9" x2="180.42" y2="534.18"/>
<line x1="269.8" y1="462.9" x2="198.52" y2="534.18"/>
<line x1="287.9" y1="462.9" x2="216.62" y2="534.18"/>
<line x1="306" y1="462.9" x2="234.72" y2="534.18"/>
<line x1="324.1" y1="462.9" x2="252.82" y2="534.18"/>
<line x1="342.2" y1="462.9" x2="270.92" y2="534.18"/>
<line x1="360.3" y1="462.9" x2="289.02" y2="534.18"/>
<line x1="378.4" y1="462.9" x2="307.12" y2="534.18"/>
<line x1="396.5" y1="462.9" x2="325.22" y2="534.18"/>
<line x1="414.6" y1="462.9" x2="343.32" y2="534.18"/>
<line x1="432.7" y1="462.9" x2="361.42" y2="534.18"/>
<line x1="450.8" y1="462.9" x2="379.52" y2="534.18"/>
<line x1="468.9" y1="462.9" x2="397.62" y2="534.18"/>
</g>
<g clip-path="url(#c4)" stroke="#000" stroke-width="1.2">
<line x1="228.9" y1="573.2" x2="336.94" y2="681.24"/>
<line x1="247" y1="573.2" x2="355.04" y2="681.24"/>
<line x1="265.1" y1="573.2" x2="373.14" y2="681.24"/>
<line x1="283.2" y1="573.2" x2="391.24" y2="681.24"/>
<line x1="301.3" y1="573.2" x2="409.34" y2="681.24"/>
<line x1="319.4" y1="573.2" x2="427.44" y2="681.24"/>
<line x1="337.5" y1="573.2" x2="445.54" y2="681.24"/>
<line x1="355.6" y1="573.2" x2="463.64" y2="681.24"/>
<line x1="373.7" y1="573.2" x2="481.74" y2="681.24"/>
<line x1="391.8" y1="573.2" x2="499.84" y2="681.24"/>
<line x1="409.9" y1="573.2" x2="517.94" y2="681.24"/>
<line x1="428" y1="573.2" x2="536.04" y2="681.24"/>
<line x1="446.1" y1="573.2" x2="554.14" y2="681.24"/>
<line x1="464.2" y1="573.2" x2="572.24" y2="681.24"/>
<line x1="482.3" y1="573.2" x2="590.34" y2="681.24"/>
<line x1="500.4" y1="573.2" x2="608.44" y2="681.24"/>
<line x1="518.5" y1="573.2" x2="626.54" y2="681.24"/>
<line x1="536.6" y1="573.2" x2="644.64" y2="681.24"/>
<line x1="554.7" y1="573.2" x2="662.74" y2="681.24"/>
<line x1="572.8" y1="573.2" x2="680.84" y2="681.24"/>
<line x1="590.9" y1="573.2" x2="698.94" y2="681.24"/>
<line x1="609" y1="573.2" x2="717.04" y2="681.24"/>
<line x1="344.8" y1="573.2" x2="236.76" y2="681.24"/>
<line x1="362.9" y1="573.2" x2="254.86" y2="681.24"/>
<line x1="381" y1="573.2" x2="272.96" y2="681.24"/>
<line x1="399.1" y1="573.2" x2="291.06" y2="681.24"/>
<line x1="417.2" y1="573.2" x2="309.16" y2="681.24"/>
<line x1="435.3" y1="573.2" x2="327.26" y2="681.24"/>
<line x1="453.4" y1="573.2" x2="345.36" y2="681.24"/>
<line x1="471.5" y1="573.2" x2="363.46" y2="681.24"/>
<line x1="489.6" y1="573.2" x2="381.56" y2="681.24"/>
<line x1="507.7" y1="573.2" x2="399.66" y2="681.24"/>
<line x1="525.8" y1="573.2" x2="417.76" y2="681.24"/>
<line x1="543.9" y1="573.2" x2="435.86" y2="681.24"/>
<line x1="562" y1="573.2" x2="453.96" y2="681.24"/>
<line x1="580.1" y1="573.2" x2="472.06" y2="681.24"/>
<line x1="598.2" y1="573.2" x2="490.16" y2="681.24"/>
<line x1="616.3" y1="573.2" x2="508.26" y2="681.24"/>
<line x1="634.4" y1="573.2" x2="526.36" y2="681.24"/>
<line x1="652.5" y1="573.2" x2="544.46" y2="681.24"/>
<line x1="670.6" y1="573.2" x2="562.56" y2="681.24"/>
<line x1="688.7" y1="573.2" x2="580.66" y2="681.24"/>
<line x1="706.8" y1="573.2" x2="598.76" y2="681.24"/>
<line x1="724.9" y1="573.2" x2="616.86" y2="681.24"/>
</g>
<g clip-path="url(#c3)" stroke="#000" stroke-width="1.2">
<line x1="546.86" y1="475.16" x2="654.9" y2="583.2"/>
<line x1="564.96" y1="475.16" x2="673" y2="583.2"/>
<line x1="583.06" y1="475.16" x2="691.1" y2="583.2"/>
<line x1="601.16" y1="475.16" x2="709.2" y2="583.2"/>
<line x1="619.26" y1="475.16" x2="727.3" y2="583.2"/>
<line x1="637.36" y1="475.16" x2="745.4" y2="583.2"/>
<line x1="655.46" y1="475.16" x2="763.5" y2="583.2"/>
<line x1="673.56" y1="475.16" x2="781.6" y2="583.2"/>
<line x1="691.66" y1="475.16" x2="799.7" y2="583.2"/>
<line x1="709.76" y1="475.16" x2="817.8" y2="583.2"/>
<line x1="727.86" y1="475.16" x2="835.9" y2="583.2"/>
<line x1="745.96" y1="475.16" x2="854" y2="583.2"/>
<line x1="764.06" y1="475.16" x2="872.1" y2="583.2"/>
<line x1="782.16" y1="475.16" x2="890.2" y2="583.2"/>
<line x1="800.26" y1="475.16" x2="908.3" y2="583.2"/>
<line x1="818.36" y1="475.16" x2="926.4" y2="583.2"/>
<line x1="654.44" y1="475.16" x2="546.4" y2="583.2"/>
<line x1="672.54" y1="475.16" x2="564.5" y2="583.2"/>
<line x1="690.64" y1="475.16" x2="582.6" y2="583.2"/>
<line x1="708.74" y1="475.16" x2="600.7" y2="583.2"/>
<line x1="726.84" y1="475.16" x2="618.8" y2="583.2"/>
<line x1="744.94" y1="475.16" x2="636.9" y2="583.2"/>
<line x1="763.04" y1="475.16" x2="655" y2="583.2"/>
<line x1="781.14" y1="475.16" x2="673.1" y2="583.2"/>
<line x1="799.24" y1="475.16" x2="691.2" y2="583.2"/>
<line x1="817.34" y1="475.16" x2="709.3" y2="583.2"/>
<line x1="835.44" y1="475.16" x2="727.4" y2="583.2"/>
<line x1="853.54" y1="475.16" x2="745.5" y2="583.2"/>
<line x1="871.64" y1="475.16" x2="763.6" y2="583.2"/>
<line x1="889.74" y1="475.16" x2="781.7" y2="583.2"/>
<line x1="907.84" y1="475.16" x2="799.8" y2="583.2"/>
<line x1="925.94" y1="475.16" x2="817.9" y2="583.2"/>
</g>
<polygon points="320.8,484 323.8,481 345.6,481 348.6,484 348.6,503.5 345.6,506.5 323.8,506.5 320.8,503.5" fill="#fff"/>
<polygon points="726,517 731,512 745,512 750,517 750,538 745,543 731,543 726,538" fill="#fff"/>
<polyline points="277.4,467.9 277.4,230.97 469.3,230.97" fill="none" stroke="#111" stroke-width="1.3"/>
<polyline points="293.73,365.78 293.73,247.31 469.3,247.31" fill="none" stroke="#111" stroke-width="1.3"/>
<polyline points="469.3,365.78 469.3,169.7 677.53,169.7 677.53,267.74 800.02,267.74" fill="none" stroke="#111" stroke-width="1.2"/>
<line x1="800.02" y1="267.74" x2="800.02" y2="578.2" stroke="#333" stroke-width="1.15"/>
<polyline points="485.63,365.78 485.63,186.04 579.54,186.04" fill="none" stroke="#111" stroke-width="1.2"/>
<line x1="579.54" y1="186.04" x2="579.54" y2="365.78" stroke="#444" stroke-width="1.1"/>
<polyline points="587.71,186.04 661.2,186.04 661.2,365.78" fill="none" stroke="#111" stroke-width="1.2"/>
<line x1="587.71" y1="186.04" x2="587.71" y2="365.78" stroke="#444" stroke-width="1.1"/>
<polyline points="669.37,365.78 669.37,284.08 783.69,284.08 783.69,463.82" fill="none" stroke="#111" stroke-width="1.2"/>
<polyline points="677.53,365.78 677.53,463.82" fill="none" stroke="#111" stroke-width="1.2"/>
<polyline points="677.53,480.16 677.53,578.2" fill="none" stroke="#111" stroke-width="1.2"/>
<line x1="677.53" y1="463.82" x2="800.02" y2="463.82" stroke="#111" stroke-width="1.2"/>
<line x1="677.53" y1="480.16" x2="800.02" y2="480.16" stroke="#111" stroke-width="1.3"/>
<line x1="277.4" y1="365.78" x2="677.53" y2="365.78" stroke="#111" stroke-width="1.3"/>
<line x1="293.73" y1="382.12" x2="661.2" y2="382.12" stroke="#111" stroke-width="1.3"/>
<polyline points="293.73,382.12 293.73,451.56 399.89,451.56 399.89,382.12" fill="none" stroke="#111" stroke-width="1.3"/>
<polyline points="383.56,382.12 383.56,561.86 661.2,561.86 661.2,382.12" fill="none" stroke="#111" stroke-width="1.3"/>
<polyline points="277.4,467.9 367.23,467.9" fill="none" stroke="#111" stroke-width="1.3"/>
<polyline points="277.4,467.9 277.4,529.18 367.23,529.18" fill="none" stroke="#111" stroke-width="1.3"/>
<polyline points="277.4,512.84 293.73,512.84 293.73,529.18" fill="none" stroke="#111" stroke-width="1.1"/>
<line x1="367.23" y1="467.9" x2="367.23" y2="676.24" stroke="#777" stroke-width="1.1"/>
<line x1="367.23" y1="578.2" x2="800.02" y2="578.2" stroke="#333" stroke-width="1.2"/>
<polyline points="367.23,676.24 595.87,676.24 595.87,578.2" fill="none" stroke="#111" stroke-width="1.2"/>
<polyline points="367.23,659.9 383.56,659.9 383.56,676.24" fill="none" stroke="#111" stroke-width="1.1"/>
<polyline points="579.54,676.24 579.54,659.9 595.87,659.9" fill="none" stroke="#111" stroke-width="1.1"/>
<polyline points="783.69,578.2 783.69,561.86 800.02,561.86" fill="none" stroke="#111" stroke-width="1.1"/>
<rect x="383.56" y="396.5" width="16.33" height="40.6" fill="#fff" stroke="#222" stroke-width="1"/>
<rect x="388" y="397.3" width="3.8" height="39" fill="none" stroke="#333" stroke-width="0.9"/>
<path d="M391.8 398.3 H428.3 A36.5 36.5 0 0 1 391.8 434.8" fill="none" stroke="#111" stroke-width="1.1"/>
<rect x="367.23" y="472.1" width="16.33" height="40.9" fill="#fff" stroke="#222" stroke-width="1"/>
<rect x="371.9" y="472.9" width="3.7" height="39.3" fill="none" stroke="#333" stroke-width="0.9"/>
<path d="M375.6 474.1 H412.3 A36.7 36.7 0 0 1 375.6 510.8" fill="none" stroke="#111" stroke-width="1.1"/>
<rect x="661.2" y="509.3" width="16.33" height="40.1" fill="#fff" stroke="#333" stroke-width="0.9"/>
<line x1="669.7" y1="509.3" x2="669.7" y2="549.4" stroke="#222" stroke-width="0.9"/>
<line x1="673.4" y1="509.3" x2="673.4" y2="549.4" stroke="#222" stroke-width="0.9"/>
<path d="M653.7 512.3 H679.1 M653.7 546.5 H679.1" stroke="#111" stroke-width="1.1" fill="none"/>
<path d="M653.7 512.3 A16 16 0 0 0 669.7 528.3 M653.7 546.5 A16 16 0 0 1 669.7 530.5" stroke="#111" stroke-width="1.1" fill="none"/>
<path d="M679.1 495.4 A16.5 16.5 0 0 1 679.1 528.4 M679.1 530.5 A16.5 16.5 0 0 1 679.1 563.5" stroke="#111" stroke-width="1.1" fill="none"/>
<g fill="none" stroke="#111" stroke-width="1">
<rect x="424.7" y="562.4" width="97.8" height="15.6" fill="#fff" stroke="none"/>
<line x1="424.7" y1="562" x2="424.7" y2="578" stroke="#222" stroke-width="1.0"/>
<line x1="522.5" y1="562" x2="522.5" y2="578" stroke="#222" stroke-width="1.0"/>
<rect x="428.5" y="563.2" width="45" height="4.3"/>
<line x1="432.5" y1="563.2" x2="432.5" y2="567.5" stroke="#222" stroke-width="0.9"/>
<line x1="469.5" y1="563.2" x2="469.5" y2="567.5" stroke="#222" stroke-width="0.9"/>
<line x1="424.7" y1="570.2" x2="522.5" y2="570.2" stroke="#111" stroke-width="1.0"/>
<line x1="424.7" y1="574.4" x2="522.5" y2="574.4" stroke="#111" stroke-width="1.0"/>
<line x1="428.5" y1="570.2" x2="428.5" y2="574.4" stroke="#222" stroke-width="0.9"/>
<line x1="469.5" y1="570.2" x2="469.5" y2="574.4" stroke="#222" stroke-width="0.9"/>
<line x1="473.5" y1="570.2" x2="473.5" y2="574.4" stroke="#222" stroke-width="0.9"/>
<line x1="518.5" y1="570.2" x2="518.5" y2="574.4" stroke="#222" stroke-width="0.9"/>
</g>
<line x1="439.5" y1="557.6" x2="455" y2="557.6" stroke="#000" stroke-width="1.3"/>
<polygon points="454.3,554.2 461.2,557.6 454.3,561.0" fill="#000"/>
<path d="M471.5 382.4 V402.3 H501.9 M611.4 402.3 H642.3 V382.4" fill="none" stroke="#222" stroke-width="1"/>
<rect x="502.0" y="382.6" width="109.4" height="123.1" fill="none" stroke="#999" stroke-width="0.9"/>
<rect x="504.0" y="384.0" width="105.4" height="119.7" fill="none" stroke="#aaa" stroke-width="0.8"/>
<rect x="505.6" y="387.7" width="48" height="23.3" fill="none" stroke="#999" stroke-width="0.8"/>
<rect x="559.8" y="387.7" width="47.7" height="23.3" fill="none" stroke="#999" stroke-width="0.8"/>
<line x1="505" y1="411" x2="608" y2="411" stroke="#bbb" stroke-width="0.8" stroke-dasharray="2 1.5"/>
<polygon points="504.2,421.2 514.8,411 514.8,421.2" fill="#fff" stroke="#222" stroke-width="0.9"/>
<polygon points="598.7,411 609.3,421.2 598.7,421.2" fill="#fff" stroke="#222" stroke-width="0.9"/>
<path d="M293.7 419.4 H330.9 V382.4" fill="none" stroke="#999" stroke-width="1"/>
<path d="M293.7 417.0 H326 Q329 417 329 414 V382.4" fill="none" stroke="#aaa" stroke-width="1.4"/>
<path d="M346 383 L345 395 M368.1 383 L369.2 395" stroke="#555" stroke-width="0.9" fill="none"/>
<ellipse cx="357.1" cy="395.8" rx="12.1" ry="8.0" fill="#fff" stroke="#333" stroke-width="1"/>
<path d="M348 391 A10 7 0 0 1 366 391" stroke="#666" stroke-width="0.8" fill="none" stroke-dasharray="3 2"/>
<circle cx="357.1" cy="389.7" r="0.9" fill="none" stroke="#555" stroke-width="0.7"/>
<path d="M293.7 431.6 H318.5 A4.5 4.5 0 0 1 323 436.1 V442 A4.5 4.5 0 0 1 318.5 446.5 H293.7" fill="none" stroke="#888" stroke-width="1"/>
<line x1="300.3" y1="431.6" x2="300.3" y2="446.5" stroke="#999" stroke-width="0.9"/>
<line x1="303.4" y1="431.6" x2="303.4" y2="446.5" stroke="#999" stroke-width="0.9"/>
<line x1="199.5" y1="468.2" x2="210.2" y2="468.2" stroke="#262626" stroke-width="1.3"/>
<line x1="214.7" y1="468.2" x2="248.5" y2="468.2" stroke="#262626" stroke-width="1.3"/>
<line x1="252.2" y1="468.2" x2="265.4" y2="468.2" stroke="#262626" stroke-width="1.3"/>
<line x1="269.1" y1="468.2" x2="277.4" y2="468.2" stroke="#262626" stroke-width="1.3"/>
<line x1="199.7" y1="468.2" x2="199.7" y2="479" stroke="#262626" stroke-width="1.3"/>
<line x1="199.7" y1="483.9" x2="199.7" y2="494.2" stroke="#262626" stroke-width="1.3"/>
<line x1="199.7" y1="499.6" x2="199.7" y2="509.5" stroke="#262626" stroke-width="1.3"/>
<line x1="199.7" y1="513.2" x2="199.7" y2="525.2" stroke="#262626" stroke-width="1.3"/>
<line x1="199.7" y1="529.6" x2="199.7" y2="540.4" stroke="#262626" stroke-width="1.3"/>
<line x1="199.7" y1="545.2" x2="199.7" y2="555.5" stroke="#262626" stroke-width="1.3"/>
<line x1="199.7" y1="560.7" x2="199.7" y2="571.1" stroke="#262626" stroke-width="1.3"/>
<line x1="199.7" y1="574.4" x2="199.7" y2="586.6" stroke="#262626" stroke-width="1.3"/>
<line x1="240.6" y1="468.2" x2="240.6" y2="480.2" stroke="#262626" stroke-width="1.3"/>
<line x1="240.6" y1="484.7" x2="240.6" y2="495.9" stroke="#262626" stroke-width="1.3"/>
<line x1="240.6" y1="500.8" x2="240.6" y2="525.2" stroke="#262626" stroke-width="1.3"/>
<line x1="240.6" y1="529.1" x2="240.6" y2="540" stroke="#262626" stroke-width="1.3"/>
<line x1="240.6" y1="544.7" x2="240.6" y2="555" stroke="#262626" stroke-width="1.3"/>
<line x1="240.6" y1="559.8" x2="240.6" y2="570.6" stroke="#262626" stroke-width="1.3"/>
<line x1="240.6" y1="574.4" x2="240.6" y2="586.6" stroke="#262626" stroke-width="1.3"/>
<line x1="252.8" y1="468.2" x2="252.8" y2="480.2" stroke="#262626" stroke-width="1.3"/>
<line x1="252.8" y1="484.7" x2="252.8" y2="495.9" stroke="#262626" stroke-width="1.3"/>
<line x1="252.8" y1="500.4" x2="252.8" y2="513.2" stroke="#262626" stroke-width="1.3"/>
<line x1="265" y1="468.2" x2="265" y2="475.3" stroke="#262626" stroke-width="1.3"/>
<line x1="265" y1="479.3" x2="265" y2="480.3" stroke="#262626" stroke-width="1.3"/>
<line x1="265" y1="483.9" x2="265" y2="495.9" stroke="#262626" stroke-width="1.3"/>
<line x1="265" y1="499.9" x2="265" y2="500.9" stroke="#262626" stroke-width="1.3"/>
<line x1="265" y1="506.2" x2="265" y2="513.2" stroke="#262626" stroke-width="1.3"/>
<line x1="199.7" y1="513.2" x2="205.7" y2="513.2" stroke="#262626" stroke-width="1.3"/>
<line x1="210.2" y1="513.2" x2="220.9" y2="513.2" stroke="#262626" stroke-width="1.3"/>
<line x1="225.9" y1="513.2" x2="236.2" y2="513.2" stroke="#262626" stroke-width="1.3"/>
<line x1="240.5" y1="513.2" x2="252.2" y2="513.2" stroke="#262626" stroke-width="1.3"/>
<line x1="256" y1="513.2" x2="267.1" y2="513.2" stroke="#262626" stroke-width="1.3"/>
<line x1="271.2" y1="513.2" x2="277.4" y2="513.2" stroke="#262626" stroke-width="1.3"/>
<line x1="199.7" y1="525.2" x2="210.3" y2="525.2" stroke="#262626" stroke-width="1.3"/>
<line x1="214.5" y1="525.2" x2="225.6" y2="525.2" stroke="#262626" stroke-width="1.3"/>
<line x1="230" y1="525.2" x2="240.6" y2="525.2" stroke="#262626" stroke-width="1.3"/>
<line x1="199.7" y1="537.4" x2="210.3" y2="537.4" stroke="#262626" stroke-width="1.3"/>
<line x1="214.5" y1="537.4" x2="225.6" y2="537.4" stroke="#262626" stroke-width="1.3"/>
<line x1="230" y1="537.4" x2="240.6" y2="537.4" stroke="#262626" stroke-width="1.3"/>
<line x1="199.7" y1="549.9" x2="210.3" y2="549.9" stroke="#262626" stroke-width="1.3"/>
<line x1="214.5" y1="549.9" x2="225.6" y2="549.9" stroke="#262626" stroke-width="1.3"/>
<line x1="230" y1="549.9" x2="240.6" y2="549.9" stroke="#262626" stroke-width="1.3"/>
<line x1="199.7" y1="561.9" x2="210.3" y2="561.9" stroke="#262626" stroke-width="1.3"/>
<line x1="214.5" y1="561.9" x2="225.6" y2="561.9" stroke="#262626" stroke-width="1.3"/>
<line x1="230" y1="561.9" x2="240.6" y2="561.9" stroke="#262626" stroke-width="1.3"/>
<line x1="199.7" y1="574.6" x2="210.3" y2="574.6" stroke="#262626" stroke-width="1.3"/>
<line x1="214.5" y1="574.6" x2="225.6" y2="574.6" stroke="#262626" stroke-width="1.3"/>
<line x1="230" y1="574.6" x2="240.6" y2="574.6" stroke="#262626" stroke-width="1.3"/>
<line x1="199.7" y1="586.6" x2="210.3" y2="586.6" stroke="#262626" stroke-width="1.3"/>
<line x1="214.5" y1="586.6" x2="225.6" y2="586.6" stroke="#262626" stroke-width="1.3"/>
<line x1="230" y1="586.6" x2="240.6" y2="586.6" stroke="#262626" stroke-width="1.3"/>
<path d="M331.6 484 V500 M331.6 484 L335.8 487.5" stroke="#a8a8a8" stroke-width="1" fill="none"/>
<path d="M479.3 527.5 C479.5 524.5 482 523 484.5 523 C487.5 523 489.8 525 489.8 528 C489.8 530.5 488 532.5 486 534.5 L479 540.2 H490" stroke="#a8a8a8" stroke-width="1.1" fill="none"/>
<path d="M735.5 520.2 H745 L740 526.8 C743.5 526.8 746 528.5 746 532.3 C746 536 743.3 538.2 740 538.2 C737.5 538.2 735.8 537.2 734.8 535.7" stroke="#a8a8a8" stroke-width="1.1" fill="none"/>
<path d="M497.5 613 L488.2 624.5 H500 M497.5 613 L496.5 629" stroke="#a8a8a8" stroke-width="1" fill="none"/>
<line x1="537.8" y1="406.5" x2="537.8" y2="423" stroke="#777" stroke-width="0.9"/>
<g opacity="0.8" font-family="Liberation Sans, sans-serif" font-weight="bold" font-size="70.3">
<text transform="translate(502.6 429.9) scale(1.04 1)" x="0" y="0" fill="#d6d6d6" stroke="#d6d6d6" stroke-width="3.0" stroke-linejoin="round">D</text>
<text transform="translate(573.1 429.9) scale(1.04 1)" x="0" y="0" fill="#d6d6d6" stroke="#d6d6d6" stroke-width="3.0" stroke-linejoin="round">U</text>
<text transform="translate(644.9 429.9) scale(1.04 1)" x="0" y="0" fill="#d6d6d6" stroke="#d6d6d6" stroke-width="3.0" stroke-linejoin="round">X</text>
<text transform="translate(502.6 429.9) scale(1.04 1)" x="0" y="0" fill="#fff" stroke="#fff" stroke-width="1.6" stroke-linejoin="round">D</text>
<text transform="translate(573.1 429.9) scale(1.04 1)" x="0" y="0" fill="#fff" stroke="#fff" stroke-width="1.6" stroke-linejoin="round">U</text>
<text transform="translate(644.9 429.9) scale(1.04 1)" x="0" y="0" fill="#fff" stroke="#fff" stroke-width="1.6" stroke-linejoin="round">X</text>
</g>
<g font-family="Liberation Sans, sans-serif" fill="#fff" fill-opacity="0.85" stroke="#e0e0e0" stroke-width="0.6">
<text x="541" y="467.2" font-size="17.8" textLength="117" lengthAdjust="spacingAndGlyphs">REAL ESTATE</text>
</g>
<text x="869" y="76.7" font-family="Liberation Sans, sans-serif" font-size="31" fill="#1e1e1e" stroke="#1e1e1e" stroke-width="0.3" textLength="257" lengthAdjust="spacingAndGlyphs">TLOCRT SUTERENA</text>
<g fill="none" stroke="#404040" stroke-width="1.35" stroke-linejoin="bevel">
<path d="M873.1 127.3 V100.5 L883.4 126.6 L893.8 100.5 V127.3"/>
<path d="M957.1 127.3 V100.5 L951 105.2"/>
<path d="M1043.6 127.3 V100.5 L1037.2 105.2"/>
<ellipse cx="1066.7" cy="113.6" rx="9.4" ry="13.5"/>
<ellipse cx="1091.2" cy="113.6" rx="9.4" ry="13.5"/>
</g>
<circle cx="996" cy="110.4" r="1.4" fill="#404040"/>
<circle cx="996" cy="125.5" r="1.4" fill="#404040"/>
</svg>
</body></html>
